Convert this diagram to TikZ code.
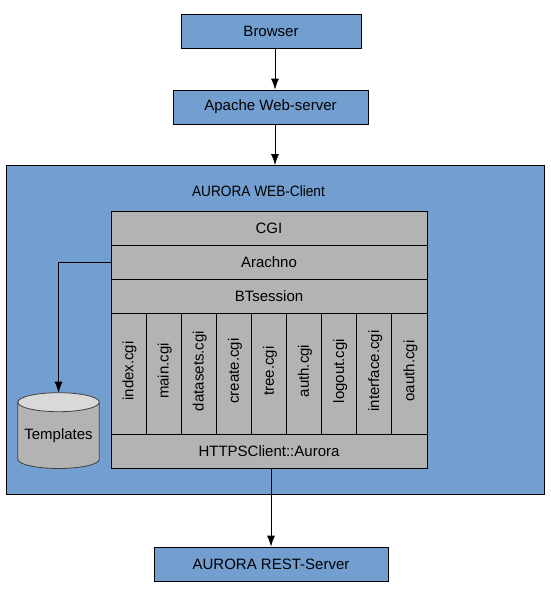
\documentclass[tikz,border=0pt]{standalone}
\usepackage{fontspec}
\setmainfont{Liberation Sans}
\usepackage{xcolor}
\usetikzlibrary{arrows.meta, positioning, calc}
\definecolor{boxblue}{HTML}{729FCF}
\definecolor{stackgray}{HTML}{B3B3B3}
\definecolor{lidgray}{HTML}{D9D9D9}
\tikzstyle{arrow} = [draw=black, line width=0.8pt, -{Latex[length=11pt, width=8pt]}]
\tikzstyle{bluebox} = [draw=black, line width=0.8pt, fill=boxblue, inner sep=0pt, font=\fontsize{15}{18}\selectfont]
\tikzstyle{layer} = [draw=black, line width=0.8pt, fill=stackgray, inner sep=0pt, minimum width=316pt, minimum height=34pt, font=\fontsize{15}{18}\selectfont]
\tikzstyle{cgicell} = [draw=black, line width=0.8pt, fill=stackgray, inner sep=0pt, minimum width=35.1pt, minimum height=120.5pt, font=\fontsize{15}{18}\selectfont]

\begin{document}
\begin{tikzpicture}[x=1pt, y=-1pt]
\useasboundingbox (0, 0) rectangle (550, 594);

\node [bluebox, minimum width=180pt, minimum height=34pt] (browser) at (271, 31) {Browser};
\node [bluebox, minimum width=195pt, minimum height=34pt] (apache) at (270.5, 107) {Apache Web-server};
\node [bluebox, minimum width=537.5pt, minimum height=328.5pt] (client) at (275.25, 329.75) {};
\node [font=\fontsize{15}{18}\selectfont, xscale=0.91] (clienttitle) at (258.5, 191.5) {AURORA WEB-Client};
\node [bluebox, minimum width=234pt, minimum height=34pt] (rest) at (271, 564) {AURORA REST-Server};

% stack of layers
\node [layer] (cgi) at (269, 228) {CGI};
\node [layer] (arachno) at (269, 262) {Arachno};
\node [layer] (btsession) at (269, 296.5) {BTsession};
\node [layer] (https) at (269, 451) {HTTPSClient::Aurora};

% the scripts, one column each
\foreach \script [count=\i from 0] in {index, main, datasets, create, tree, auth, logout, interface, oauth} {
  \node [cgicell] (\script) at (128.6 + 35.1 * \i, 373.75) {};
  \node [rotate=90, font=\fontsize{15}{18}\selectfont] (\script label) at (129.6 + 35.1 * \i, 371) {\script.cgi};
}

% cylinder
\draw [draw=black!75, line width=0.8pt, fill=stackgray] (17.8, 402.2) -- (17.8, 459.2) arc [start angle=180, end angle=360, x radius=40.75pt, y radius=9.3pt] -- (99.3, 402.2) -- cycle;
\draw [draw=black!75, line width=0.8pt, fill=lidgray] (58.55, 402.2) ellipse [x radius=40.75pt, y radius=9.5pt];
\node [font=\fontsize{15}{18}\selectfont] (templates) at (58.55, 435.5) {Templates};
\coordinate (templatestop) at (58.55, 392.7);

\draw [arrow] ([xshift=4pt]browser.south) -- ([xshift=4pt]browser.south |- apache.north);
\draw [arrow] ([xshift=4.5pt]apache.south) -- ([xshift=4.5pt]apache.south |- client.north);
\draw [arrow] (arachno.west) -| (templatestop);
\draw [arrow] ([xshift=2pt]https.south) -- ([xshift=2pt]https.south |- rest.north);

\end{tikzpicture}
\end{document}
